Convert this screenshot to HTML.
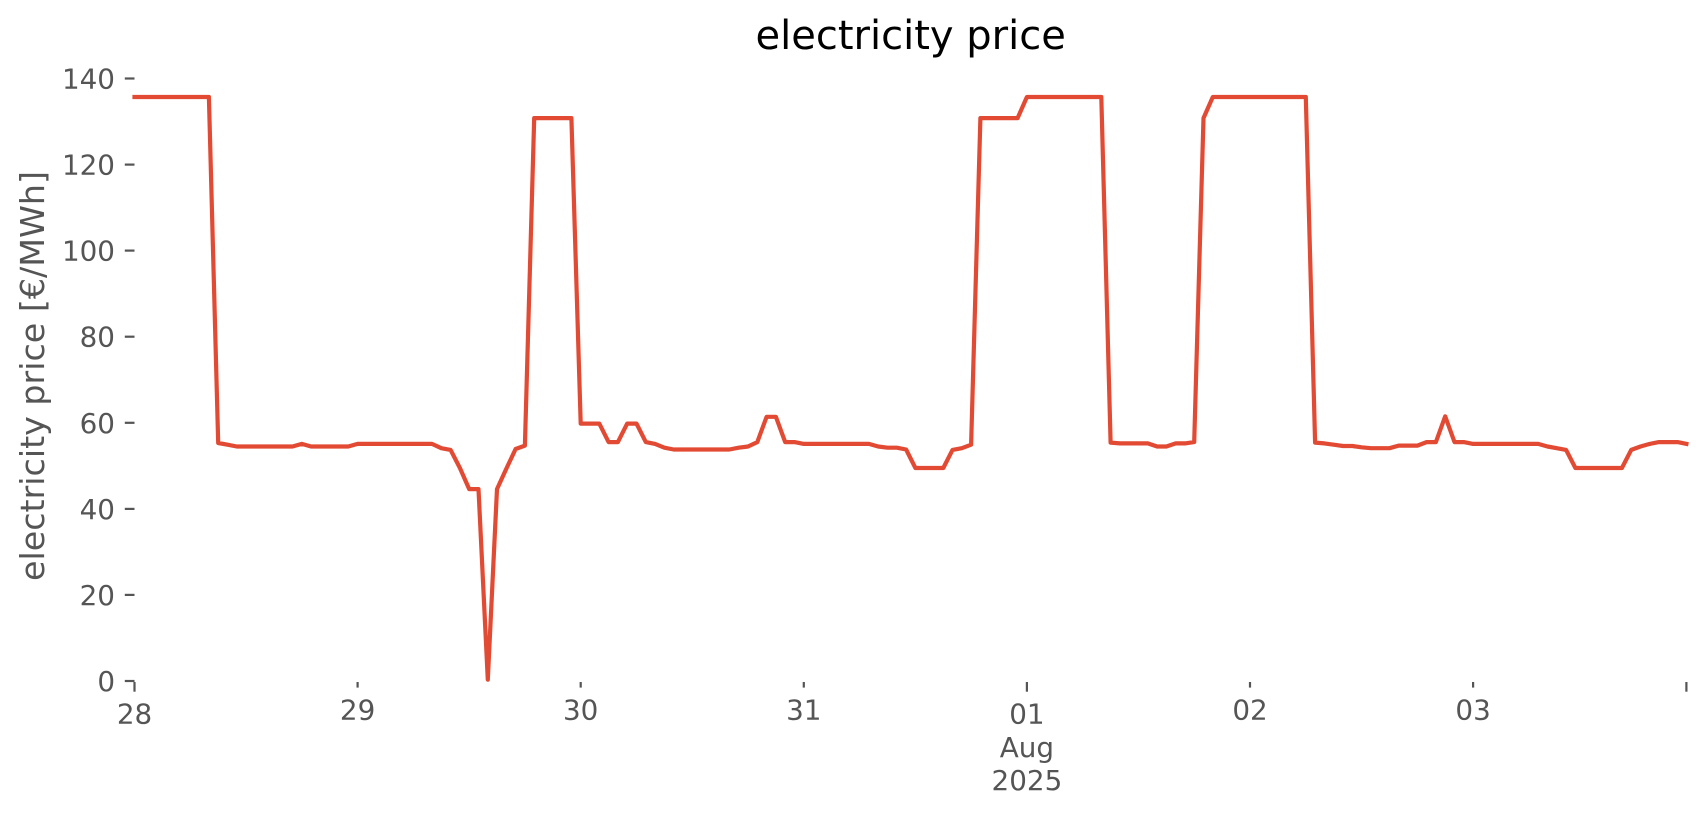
<!DOCTYPE html>
<html>
<head>
<meta charset="utf-8">
<style>
  html, body { margin: 0; padding: 0; background: #ffffff; }
  body { width: 1706px; height: 815px; overflow: hidden; }
  svg { display: block; }
  text { font-family: "DejaVu Sans", "Liberation Sans", sans-serif; }
</style>
</head>
<body>
<svg width="1706" height="815" viewBox="0 0 1706 815" xmlns="http://www.w3.org/2000/svg">
  <rect x="0" y="0" width="1706" height="815" fill="#ffffff"/>

  <!-- Title -->
  <text x="910.7" y="49" font-size="40" fill="#000000" text-anchor="middle">electricity price</text>

  <!-- Y label -->
  <text transform="translate(44,376) rotate(-90)" font-size="33.3" fill="#555555" text-anchor="middle">electricity price [€/MWh]</text>

  <!-- Y ticks -->
  <g stroke="#555555" stroke-width="2.2">
    <line x1="124.8" y1="681" x2="134.5" y2="681"/>
    <line x1="124.8" y1="594.9" x2="134.5" y2="594.9"/>
    <line x1="124.8" y1="508.9" x2="134.5" y2="508.9"/>
    <line x1="124.8" y1="422.8" x2="134.5" y2="422.8"/>
    <line x1="124.8" y1="336.7" x2="134.5" y2="336.7"/>
    <line x1="124.8" y1="250.6" x2="134.5" y2="250.6"/>
    <line x1="124.8" y1="164.6" x2="134.5" y2="164.6"/>
    <line x1="124.8" y1="78.5" x2="134.5" y2="78.5"/>
  </g>
  <g font-size="27.8" fill="#555555" text-anchor="end">
    <text x="115" y="691">0</text>
    <text x="115" y="604.9">20</text>
    <text x="115" y="518.9">40</text>
    <text x="115" y="432.8">60</text>
    <text x="115" y="346.7">80</text>
    <text x="115" y="260.6">100</text>
    <text x="115" y="174.6">120</text>
    <text x="115" y="88.5">140</text>
  </g>

  <!-- X ticks -->
  <g stroke="#555555" stroke-width="2.2">
    <line x1="134.5" y1="682" x2="134.5" y2="691.7"/>
    <line x1="357.6" y1="682" x2="357.6" y2="687.6"/>
    <line x1="580.7" y1="682" x2="580.7" y2="687.6"/>
    <line x1="803.8" y1="682" x2="803.8" y2="687.6"/>
    <line x1="1026.9" y1="682" x2="1026.9" y2="691.7"/>
    <line x1="1250.0" y1="682" x2="1250.0" y2="687.6"/>
    <line x1="1473.1" y1="682" x2="1473.1" y2="687.6"/>
    <line x1="1686.4" y1="682" x2="1686.4" y2="691.7"/>
  </g>
  <g font-size="27.8" fill="#555555" text-anchor="middle">
    <text x="134.5" y="723.5">28</text>
    <text x="357.6" y="719.5">29</text>
    <text x="580.7" y="719.5">30</text>
    <text x="803.8" y="719.5">31</text>
    <text x="1026.9" y="723.5">01</text>
    <text x="1026.9" y="757">Aug</text>
    <text x="1026.9" y="790">2025</text>
    <text x="1250.0" y="719.5">02</text>
    <text x="1473.1" y="719.5">03</text>
  </g>

  <!-- Series -->
  <polyline fill="none" stroke="#E24A33" stroke-width="4.2" stroke-linejoin="round" stroke-linecap="square"
    points="134.5,97.0 208.9,97.0 218.2,443.0 227.5,444.7 236.8,446.5 292.5,446.5 301.8,443.9 311.1,446.5 348.3,446.5 357.6,443.9 432.0,443.9 441.3,448.2 450.6,449.9 459.9,468.0 469.2,489.1 478.5,489.1 487.8,679.7 497.0,489.1 506.3,468.8 515.6,449.0 524.9,445.6 534.2,118.1 571.4,118.1 580.7,423.6 599.3,423.6 608.6,442.1 617.9,442.1 627.2,423.6 636.5,423.6 645.8,442.1 655.1,443.9 664.4,447.7 673.7,449.5 729.4,449.5 738.7,447.7 748.0,446.5 757.3,442.1 766.6,416.8 775.9,416.8 785.2,442.1 794.5,442.1 803.8,443.9 868.9,443.9 878.2,446.5 887.5,447.7 896.8,447.7 906.1,449.5 915.4,468.0 943.3,468.0 952.5,449.9 961.8,448.2 971.1,444.7 980.4,118.1 1017.6,118.1 1026.9,97.0 1101.3,97.0 1110.6,442.6 1119.9,443.4 1147.8,443.4 1157.1,446.5 1166.4,446.5 1175.7,443.4 1185.0,443.4 1194.2,442.1 1203.5,118.1 1212.8,97.0 1305.8,97.0 1315.1,442.6 1324.4,443.4 1333.7,444.7 1343.0,446.0 1352.3,446.0 1361.6,447.3 1370.9,448.2 1389.5,448.2 1398.8,445.6 1417.4,445.6 1426.6,442.1 1435.9,442.1 1445.2,416.3 1454.5,442.1 1463.8,442.1 1473.1,443.9 1538.2,443.9 1547.5,446.5 1556.8,448.2 1566.1,449.9 1575.4,468.0 1621.9,468.0 1631.2,449.9 1640.5,446.5 1649.7,443.9 1659.0,442.1 1677.6,442.1 1686.4,443.9"/>
</svg>
</body>
</html>
